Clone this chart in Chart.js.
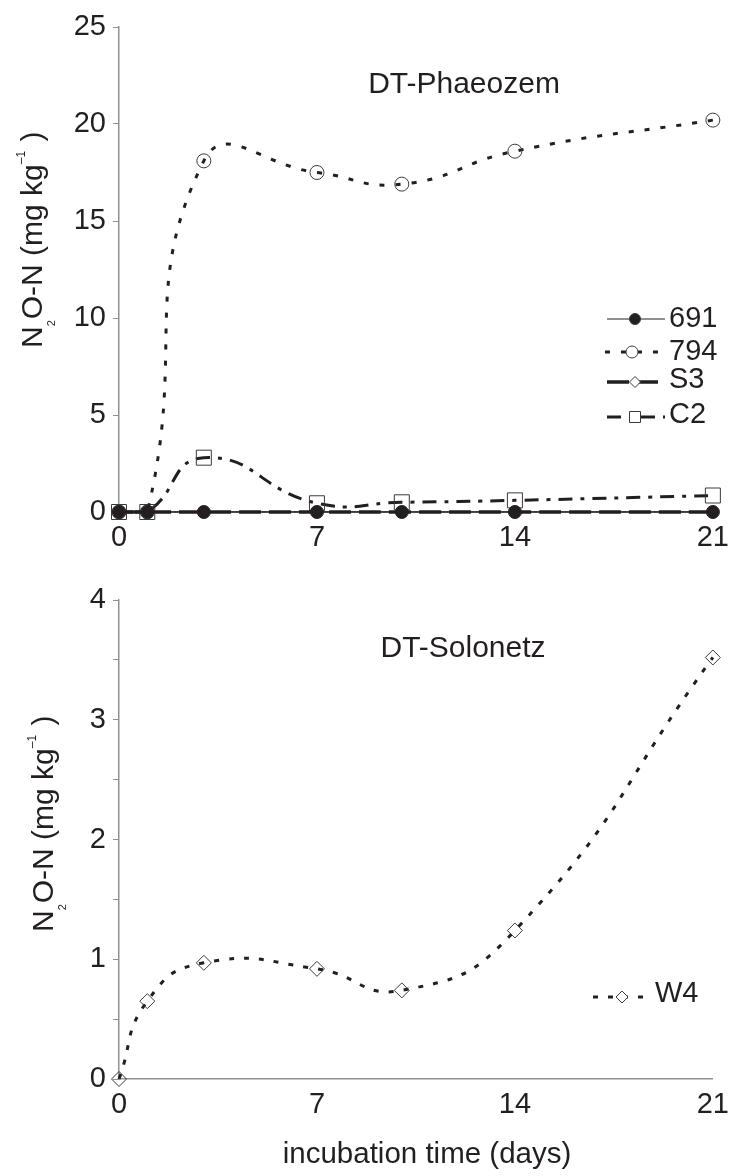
<!DOCTYPE html>
<html>
<head>
<meta charset="utf-8">
<script src="https://cdn.jsdelivr.net/npm/chart.js@4.4.1/dist/chart.umd.min.js"></script>
<style>
html,body{margin:0;padding:0;background:#fff;}
canvas{display:block;}
</style>
</head>
<body>
<canvas id="c1" width="738" height="560" style="width:738px;height:560px"></canvas>
<canvas id="c2" width="738" height="616" style="width:738px;height:616px"></canvas>
<script>
// ---------- data ----------
const days = [0, 1, 3, 7, 10, 14, 21];
const xTickValues = [0, 7, 14, 21];
const s691 = [0, 0, 0, 0, 0, 0, 0];
const s794 = [0, 0, 18.1, 17.5, 16.9, 18.6, 20.2];
const sS3  = [0, 0, 0, 0, 0, 0, 0];
const sC2  = [0, 0, 2.8, 0.45, 0.5, 0.6, 0.85];
const sW4  = [0, 0.65, 0.97, 0.92, 0.74, 1.24, 3.52];
const topYTicks = [0, 5, 10, 15, 20, 25];
const botYTicks = [0, 1, 2, 3, 4];
const botYMinor = [0.5, 1.5, 2.5, 3.5];
const topLabels = ['691', '794', 'S3', 'C2'];
const botLabels = ['W4'];
const topTitle = 'DT-Phaeozem';
const botTitle = 'DT-Solonetz';
const xTitle = 'incubation time (days)';

// ---------- style ----------
const FONT = '"Liberation Sans", Arial, Helvetica, sans-serif';
const INK = '#231f20';
const MARK = '#3a3a3a';
const AXIS = '#8d9297';
const TICKSIZE = 29;
const CLEAR = 'rgba(255,255,255,0)';

function pts(ys) { return days.map((d, i) => ({x: d, y: ys[i]})); }

function drawMarker(ctx, style, x, y, r, fill) {
  ctx.save();
  ctx.beginPath();
  if (style === 'circle') {
    ctx.arc(x, y, r, 0, Math.PI * 2);
  } else if (style === 'rect') {
    ctx.rect(x - r, y - r, 2 * r, 2 * r);
  } else if (style === 'rectRot') {
    ctx.moveTo(x, y - r); ctx.lineTo(x + r, y); ctx.lineTo(x, y + r); ctx.lineTo(x - r, y); ctx.closePath();
  }
  ctx.fillStyle = fill;
  ctx.fill();
  ctx.lineWidth = 1;
  ctx.strokeStyle = MARK;
  ctx.stroke();
  ctx.restore();
}

function drawYTitle(ctx, bx, sy, size) {
  ctx.save();
  ctx.translate(bx, sy);
  ctx.rotate(-Math.PI / 2);
  ctx.fillStyle = INK;
  ctx.textAlign = 'left';
  ctx.textBaseline = 'alphabetic';
  const parts = [['N', size, 0], ['2', 11, 13], ['O-N (mg kg', size, 0], ['\u20131', 12, -17], [' )', size, 0]];
  let cx = 0;
  for (const [t, s, dy] of parts) {
    ctx.font = s + 'px ' + FONT;
    ctx.fillText(t, cx, dy);
    cx += ctx.measureText(t).width + (s < size ? 1 : 0);
  }
  ctx.restore();
}

function legendPlugin() {
  return {
    id: 'custom',
    afterDraw(chart) {
      const ctx = chart.ctx;
      const o = chart.options.plugins.custom;
      ctx.save();
      ctx.fillStyle = INK;
      ctx.font = '30px ' + FONT;
      ctx.textAlign = 'center';
      ctx.textBaseline = 'alphabetic';
      ctx.fillText(o.title, o.titleX, o.titleY);
      if (o.xTitle) {
        ctx.font = '29.5px ' + FONT;
        ctx.fillText(o.xTitle, o.xTitleX, o.xTitleY);
      }
      ctx.restore();
      drawYTitle(ctx, o.yTitleX, o.yTitleY, 30);
      o.legend.forEach(lg => {
        const ds = chart.data.datasets[lg.index];
        ctx.save();
        ctx.strokeStyle = ds.borderColor;
        ctx.lineWidth = lg.lineWidth || ds.borderWidth;
        ctx.setLineDash(ds.borderDash || []);
        ctx.beginPath();
        ctx.moveTo(lg.x0, lg.ly);
        ctx.lineTo(lg.x1, lg.ly);
        ctx.stroke();
        ctx.restore();
        drawMarker(ctx, ds.pointStyle, lg.mx, lg.ly, lg.r, lg.fill);
        ctx.save();
        ctx.fillStyle = INK;
        ctx.font = TICKSIZE + 'px ' + FONT;
        ctx.textAlign = 'left';
        ctx.textBaseline = 'alphabetic';
        ctx.fillText(ds.label, lg.tx, lg.ty);
        ctx.restore();
      });
    }
  };
}

function xScale(h) {
  return {
    type: 'linear', min: 0, max: 21,
    afterBuildTicks: s => { s.ticks = xTickValues.map(v => ({value: v})); },
    afterFit: s => { s.height = h; },
    grid: {display: false, drawTicks: false, drawOnChartArea: false},
    border: {display: true, color: AXIS, width: 1.5},
    ticks: {color: INK, font: {family: FONT, size: TICKSIZE}, padding: 9, maxRotation: 0, autoSkip: false}
  };
}

function yScale(max, major, minor) {
  return {
    type: 'linear', min: 0, max: max,
    afterBuildTicks: s => {
      const all = major.concat(minor).sort((a, b) => a - b);
      s.ticks = all.map(v => ({value: v}));
    },
    afterFit: s => { s.width = 119; },
    grid: {display: true, drawOnChartArea: false, drawTicks: true, tickLength: 6, color: AXIS, lineWidth: 1},
    border: {display: true, color: AXIS, width: 1.5},
    ticks: {
      color: INK, font: {family: FONT, size: TICKSIZE}, padding: 7, autoSkip: false,
      callback: v => major.includes(v) ? String(v) : ''
    }
  };
}

const common = {
  responsive: false, animation: false, devicePixelRatio: 1,
  plugins: {legend: {display: false}, tooltip: {enabled: false}, title: {display: false}},
  elements: {line: {tension: 0.5, borderColor: INK}, point: {borderColor: MARK, borderWidth: 1}}
};

// ---------- top chart ----------
new Chart(document.getElementById('c1'), {
  type: 'line',
  data: {
    datasets: [
      {label: topLabels[0], data: pts(s691), borderColor: INK, borderWidth: 1.5, borderDash: [],
       pointStyle: 'circle', pointRadius: 6.5, pointBackgroundColor: INK, pointBorderColor: INK, pointBorderWidth: 1, clip: false},
      {label: topLabels[1], data: pts(s794), borderColor: INK, borderWidth: 3, borderDash: [5, 11],
       pointStyle: 'circle', pointRadius: 7, pointBackgroundColor: CLEAR, pointBorderColor: MARK, pointBorderWidth: 1, clip: false},
      {label: topLabels[2], data: pts(sS3), borderColor: INK, borderWidth: 3.5, borderDash: [22, 8],
       pointStyle: 'rectRot', pointRadius: 6, pointBackgroundColor: CLEAR, pointBorderColor: MARK, pointBorderWidth: 1, clip: false},
      {label: topLabels[3], data: pts(sC2), borderColor: INK, borderWidth: 3, borderDash: [14, 8, 4, 8],
       pointStyle: 'rect', pointRadius: 10.6, pointBackgroundColor: CLEAR, pointBorderColor: MARK, pointBorderWidth: 1, clip: false}
    ]
  },
  options: Object.assign({}, common, {
    layout: {padding: {left: 0, right: 24, top: 27, bottom: 0}},
    scales: {x: xScale(48), y: yScale(25, topYTicks, [])},
    plugins: Object.assign({}, common.plugins, {
      custom: {
        title: topTitle, titleX: 464, titleY: 93,
        yTitleX: 42, yTitleY: 348,
        legend: [
          {index: 0, x0: 607, x1: 665, mx: 635, ly: 319, r: 5.5, fill: INK, tx: 669, ty: 327, lineWidth: 1},
          {index: 1, x0: 605, x1: 665, mx: 632, ly: 352, r: 6, fill: '#fff', tx: 669, ty: 360},
          {index: 2, x0: 607, x1: 658, mx: 635, ly: 382, r: 5.5, fill: '#fff', tx: 669, ty: 388},
          {index: 3, x0: 607, x1: 665, mx: 635, ly: 417, r: 5.5, fill: '#fff', tx: 669, ty: 423}
        ]
      }
    })
  }),
  plugins: [legendPlugin()]
});

// ---------- bottom chart ----------
new Chart(document.getElementById('c2'), {
  type: 'line',
  data: {
    datasets: [
      {label: botLabels[0], data: pts(sW4), borderColor: INK, borderWidth: 3, borderDash: [5, 10],
       pointStyle: 'rectRot', pointRadius: 7.5, pointBackgroundColor: CLEAR, pointBorderColor: MARK, pointBorderWidth: 1, clip: false}
    ]
  },
  options: Object.assign({}, common, {
    layout: {padding: {left: 0, right: 25, top: 40, bottom: 0}},
    scales: {x: xScale(97), y: yScale(4, botYTicks, botYMinor)},
    plugins: Object.assign({}, common.plugins, {
      custom: {
        title: botTitle, titleX: 463, titleY: 97,
        xTitle: xTitle, xTitleX: 427, xTitleY: 603,
        yTitleX: 53, yTitleY: 372,
        legend: [
          {index: 0, x0: 593, x1: 651, mx: 622, ly: 437, r: 6, fill: '#fff', tx: 655, ty: 442}
        ]
      }
    })
  }),
  plugins: [legendPlugin()]
});
</script>
</body>
</html>
